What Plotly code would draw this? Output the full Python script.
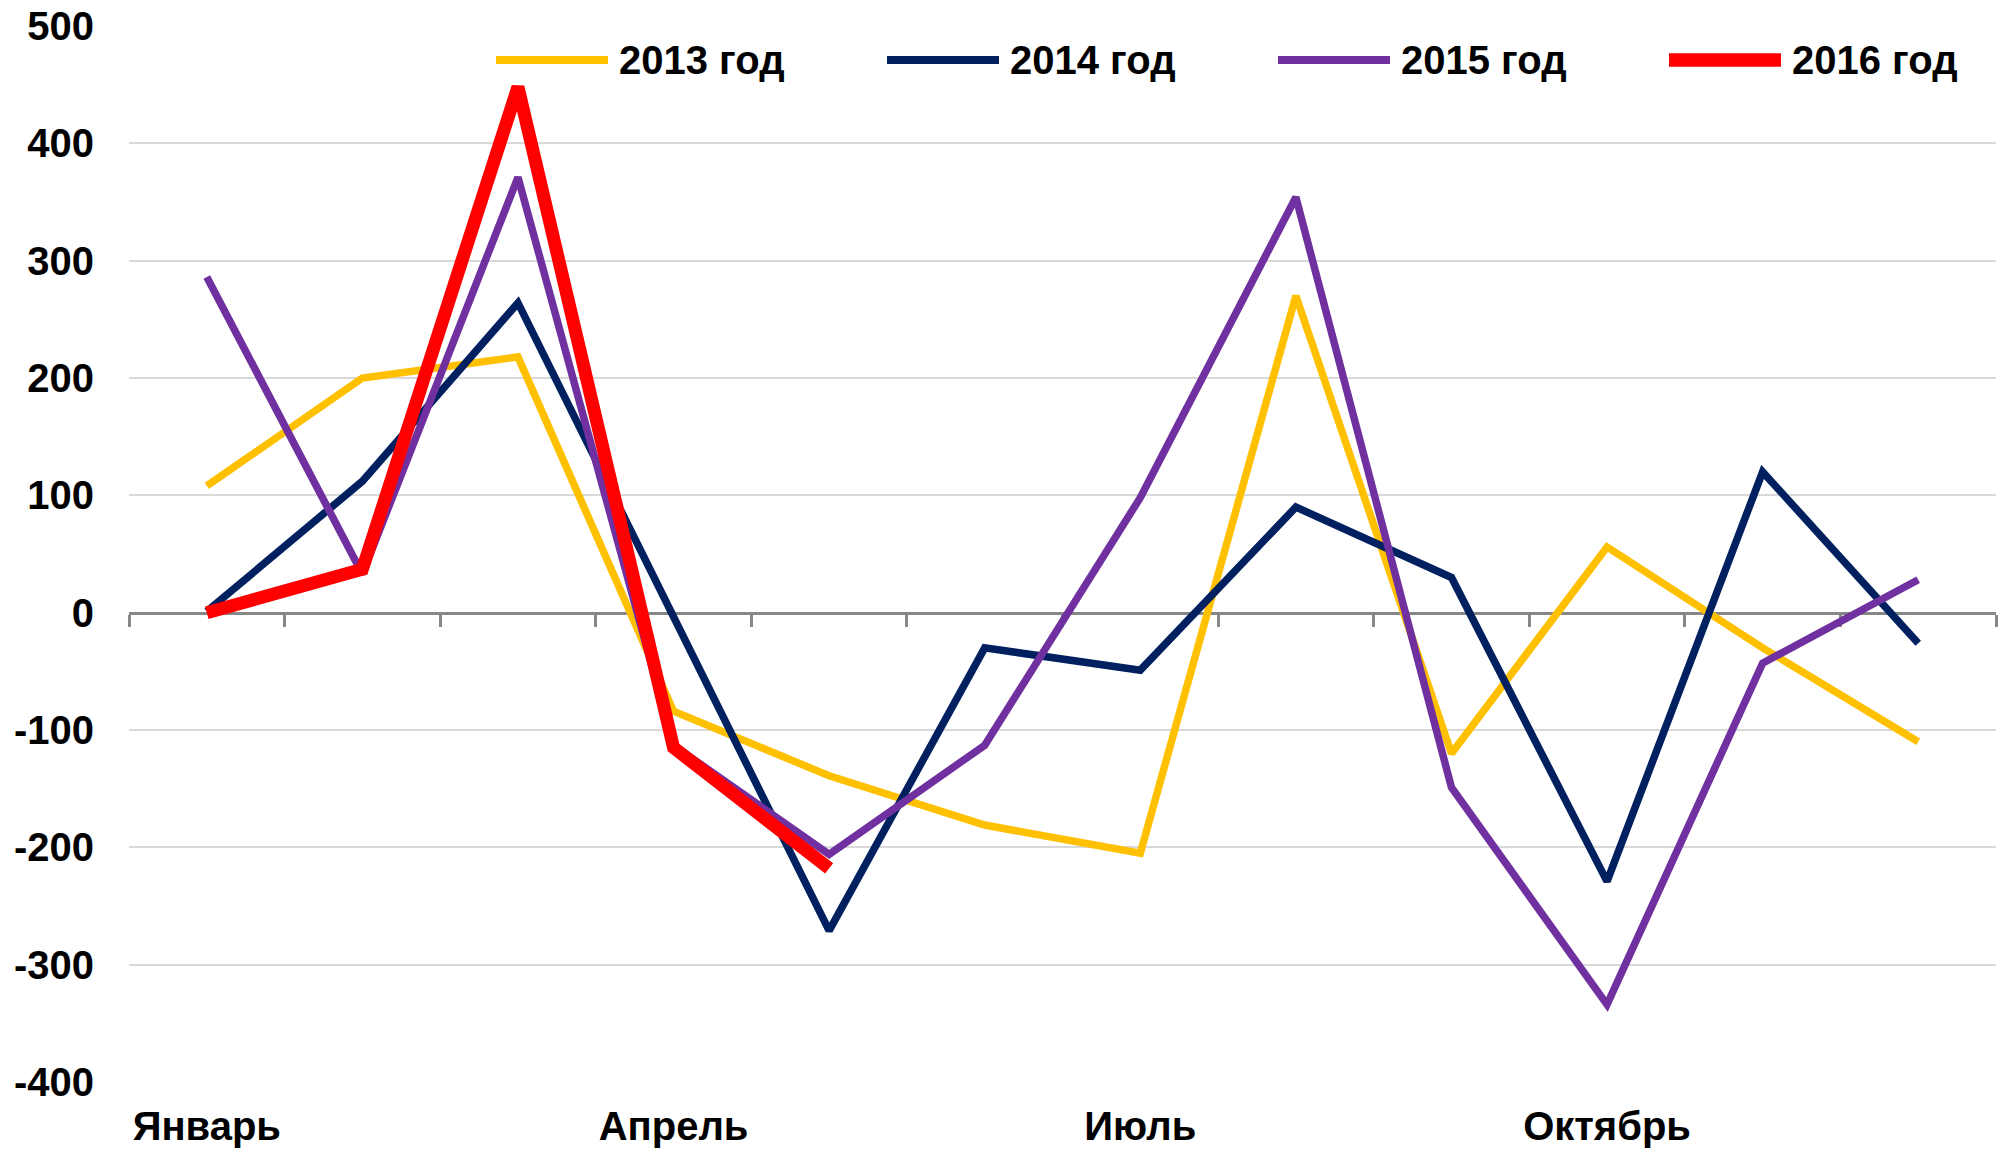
import plotly.graph_objects as go

# ── Data ──────────────────────────────────────────────────────────────────────
MONTHS = ["Январь", "Февраль", "Март", "Апрель", "Май", "Июнь",
          "Июль", "Август", "Сентябрь", "Октябрь", "Ноябрь", "Декабрь"]
MONTH_TICKS = ["Январь", "Апрель", "Июль", "Октябрь"]

Y2013 = [108, 200, 218, -84, -139, -181, -205, 270, -120, 56, -30, -110]
Y2014 = [1, 112, 264, -3, -271, -30, -49, 90, 30, -229, 120, -26]
Y2015 = [286, 33, 371, -113, -206, -113, 98, 354, -149, -334, -43, 28]
Y2016 = [0, 37, 448, -115, -218]

SERIES_NAMES = ["2013 год", "2014 год", "2015 год", "2016 год"]
SERIES_VALUES = [Y2013, Y2014, Y2015, Y2016]
SERIES_COLORS = ["#FFC000", "#002060", "#7030A0", "#FF0000"]
SERIES_WIDTHS = [7.5, 7.5, 7.5, 13]

Y_TICKS = [-400, -300, -200, -100, 0, 100, 200, 300, 400, 500]

# ── Geometry (pixels) ─────────────────────────────────────────────────────────
W, H = 2004, 1149
M_L, M_R, M_T, M_B = 129, 8, 26, 67
PLOT_W = W - M_L - M_R
PLOT_H = H - M_T - M_B
FONT = "Arial, Liberation Sans, sans-serif"
Y_MIN, Y_MAX = -400, 500


def px_to_paper(px, py):
    return (px - M_L) / PLOT_W, (H - M_B - py) / PLOT_H


fig = go.Figure()

for name, vals, color, width in zip(SERIES_NAMES, SERIES_VALUES,
                                    SERIES_COLORS, SERIES_WIDTHS):
    fig.add_trace(go.Scatter(
        x=MONTHS[:len(vals)],
        y=vals,
        mode="lines",
        name=name,
        line=dict(color=color, width=width),
        showlegend=False,
    ))

# dummy trace so the zero-crossing category axis is drawn
fig.add_trace(go.Scatter(x=[None], y=[None], xaxis="x2", yaxis="y",
                         showlegend=False, hoverinfo="skip"))

# ── Custom legend (long line samples like the original) ──────────────────────
LEG_X0, LEG_STEP, LEG_SAMPLE, LEG_GAP, LEG_Y = 496, 391, 112, 9, 60
for i, (name, color, width) in enumerate(zip(SERIES_NAMES, SERIES_COLORS,
                                             SERIES_WIDTHS)):
    x0 = LEG_X0 + i * LEG_STEP
    xa, ya = px_to_paper(x0, LEG_Y)
    xb, _ = px_to_paper(x0 + LEG_SAMPLE, LEG_Y)
    xt, _ = px_to_paper(x0 + LEG_SAMPLE + LEG_GAP, LEG_Y)
    fig.add_shape(type="line", xref="paper", yref="paper",
                  x0=xa, x1=xb, y0=ya, y1=ya,
                  line=dict(color=color, width=width + 0.5))
    fig.add_annotation(xref="paper", yref="paper", x=xt, y=ya,
                       text=f"<b>{name}</b>", showarrow=False,
                       xanchor="left", yanchor="middle",
                       font=dict(family=FONT, size=40, color="black"))

zero_pos = (0 - Y_MIN) / (Y_MAX - Y_MIN)

fig.update_layout(
    width=W,
    height=H,
    margin=dict(l=M_L, r=M_R, t=M_T, b=M_B),
    paper_bgcolor="white",
    plot_bgcolor="white",
    showlegend=False,
    xaxis=dict(
        type="category",
        categoryorder="array",
        categoryarray=MONTHS,
        range=[-0.5, 11.5],
        tickmode="array",
        tickvals=MONTH_TICKS,
        ticktext=[f"<b>{m}</b>" for m in MONTH_TICKS],
        tickfont=dict(family=FONT, size=40, color="black"),
        ticks="",
        ticklabelstandoff=17,
        showgrid=False,
        showline=False,
        zeroline=False,
        automargin=False,
    ),
    xaxis2=dict(
        overlaying="x",
        anchor="free",
        position=zero_pos,
        range=[-0.5, 11.5],
        tickmode="linear",
        tick0=-0.5,
        dtick=1,
        ticks="outside",
        ticklen=12,
        tickwidth=3,
        tickcolor="#878787",
        showticklabels=False,
        showline=True,
        linecolor="#878787",
        linewidth=3,
        showgrid=False,
        zeroline=False,
        layer="below traces",
        automargin=False,
    ),
    yaxis=dict(
        range=[Y_MIN, Y_MAX],
        tickmode="array",
        tickvals=Y_TICKS,
        ticktext=[f"<b>{v}</b>" for v in Y_TICKS],
        tickfont=dict(family=FONT, size=40, color="black"),
        ticklabelstandoff=34,
        ticklabeloverflow="allow",
        showgrid=True,
        gridcolor="#D9D9D9",
        gridwidth=2,
        zeroline=False,
        showline=False,
        automargin=False,
    ),
)

# drop the default 8px body margin so the figure fills the window exactly
fig.write_html("out.html", config={"displayModeBar": False},
               post_script="document.body.style.margin='0';")
